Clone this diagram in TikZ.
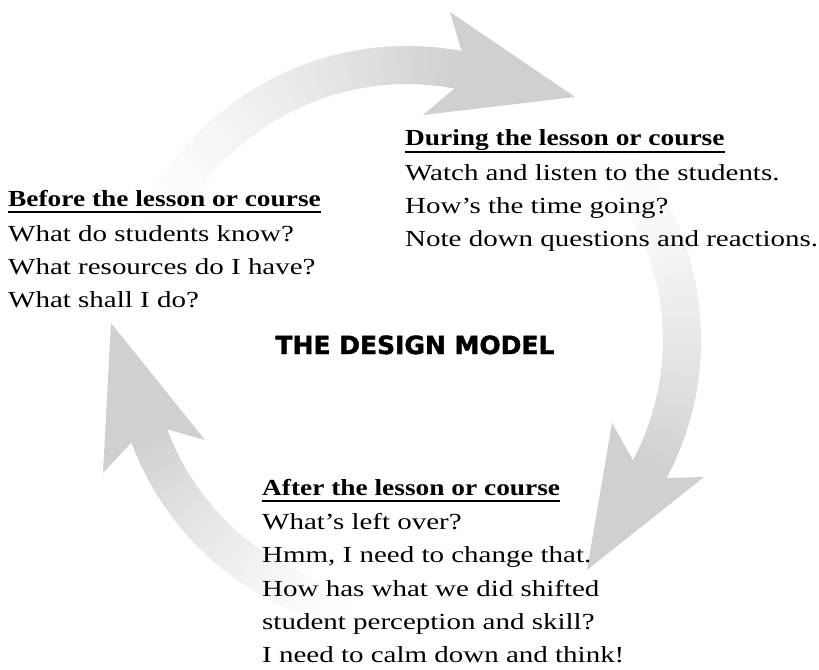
\documentclass[tikz,border=0pt]{standalone}
\usepackage{fontspec}
\setmainfont{Liberation Serif}[FakeStretch=1.26,BoldFeatures={FakeStretch=1.19}]
\newfontfamily\titlefont{DejaVu Sans}[FakeBold=1.6]
\definecolor{arrowgray}{RGB}{208,208,208}
\tikzset{
  txt/.style={anchor=base west, inner sep=0pt, font=\fontsize{23bp}{33bp}\selectfont},
  hdr/.style={anchor=base west, inner sep=0pt, font=\fontsize{23bp}{33bp}\selectfont\bfseries},
  ttl/.style={anchor=base, inner sep=0pt, font=\titlefont\fontsize{25bp}{30bp}\selectfont\bfseries},
  uline/.style={line width=1.8bp},
  headfill/.style={fill=arrowgray, draw=none}
}
\newcommand\shaftarc[2]{%
  \foreach \i in {0,...,79}{%
    \pgfmathsetmacro\aa{#1+(#2-#1)*\i/80}%
    \pgfmathsetmacro\ab{#1+(#2-#1)*(\i+1.5)/80}%
    \pgfmathsetmacro\am{(\aa+\ab)/2}%
    \pgfmathsetmacro\pc{100*(\i/79)^1.4}%
    \fill[arrowgray!\pc!white]
      ({407+256*cos(\aa)},{340-256*sin(\aa)}) --
      ({407+256*cos(\am)},{340-256*sin(\am)}) --
      ({407+256*cos(\ab)},{340-256*sin(\ab)}) --
      ({407+294*cos(\ab)},{340-294*sin(\ab)}) --
      ({407+294*cos(\am)},{340-294*sin(\am)}) --
      ({407+294*cos(\aa)},{340-294*sin(\aa)}) -- cycle;
  }%
}
\begin{document}
\begin{tikzpicture}[x=1bp,y=-1bp]
\useasboundingbox (0,0) rectangle (819,670);
\fill[white] (0,0) rectangle (819,670);

% shafts (gradient from tail to head)
\shaftarc{158}{79.3}
\shaftarc{44}{-28}
\shaftarc{260}{200.4}

% heads
\coordinate (tjo) at ({407+294*cos(79.3)},{340-294*sin(79.3)});
\coordinate (tji) at ({407+256*cos(79.3)},{340-256*sin(79.3)});
\coordinate (ta) at (450,12);
\coordinate (tt) at (575,97);
\coordinate (tb) at (423,115);
\fill[headfill] (tjo) -- (ta) -- (tt) -- (tb) -- (tji) -- cycle;

\coordinate (rjo) at ({407+294*cos(-28)},{340-294*sin(-28)});
\coordinate (rji) at ({407+256*cos(-28)},{340-256*sin(-28)});
\coordinate (ra) at (612,423);
\coordinate (rt) at (587,570);
\coordinate (rb) at (704,477);
\fill[headfill] (rji) -- (ra) -- (rt) -- (rb) -- (rjo) -- cycle;

\coordinate (ljo) at ({407+294*cos(200.4)},{340-294*sin(200.4)});
\coordinate (lji) at ({407+256*cos(200.4)},{340-256*sin(200.4)});
\coordinate (la) at (103,473);
\coordinate (lt) at (111,323);
\coordinate (lb) at (205,440);
\fill[headfill] (ljo) -- (la) -- (lt) -- (lb) -- (lji) -- cycle;

% title
\node[ttl] (title) at (415,354) {THE DESIGN MODEL};

% Before
\node[hdr] (b0) at (8,206) {Before the lesson or course};
\node[txt] (b1) at (8,241) {What do students know?};
\node[txt] (b2) at (8,274) {What resources do I have?};
\node[txt] (b3) at (8,307) {What shall I do?};
\draw[uline] ([yshift=-6bp]b0.base west) -- ([yshift=-6bp]b0.base east);

% During
\node[hdr] (d0) at (405,146) {During the lesson or course};
\node[txt] (d1) at (405,180) {Watch and listen to the students.};
\node[txt] (d2) at (405,213) {How’s the time going?};
\node[txt] (d3) at (405,246) {Note down questions and reactions.};
\draw[uline] ([yshift=-6bp]d0.base west) -- ([yshift=-6bp]d0.base east);

% After
\node[hdr] (a0) at (262,495) {After the lesson or course};
\node[txt] (a1) at (262,529) {What’s left over?};
\node[txt] (a2) at (262,562) {Hmm, I need to change that.};
\node[txt] (a3) at (262,596) {How has what we did shifted};
\node[txt] (a4) at (262,629) {student perception and skill?};
\node[txt] (a5) at (262,662) {I need to calm down and think!};
\draw[uline] ([yshift=-6bp]a0.base west) -- ([yshift=-6bp]a0.base east);
\end{tikzpicture}
\end{document}
